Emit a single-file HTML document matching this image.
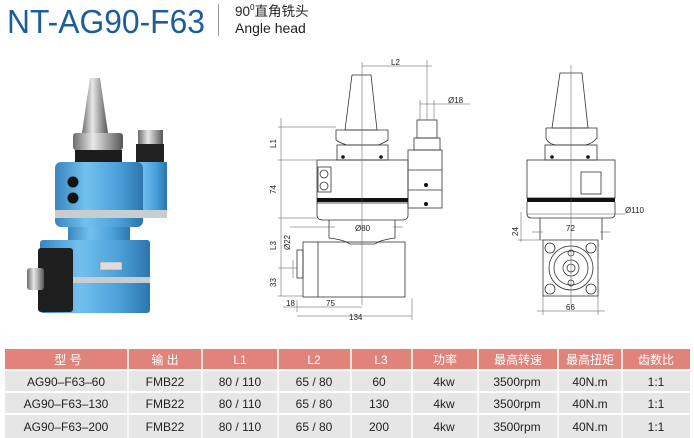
<!DOCTYPE html>
<html><head><meta charset="utf-8"><style>
html,body{margin:0;padding:0;background:#fff;width:694px;height:438px;overflow:hidden}
svg{display:block}
text{font-family:"Liberation Sans","Noto Sans CJK SC",sans-serif}
</style></head><body>
<svg width="694" height="438" viewBox="0 0 694 438" xmlns="http://www.w3.org/2000/svg">
<defs>
<linearGradient id="blue" x1="0" x2="1"><stop offset="0" stop-color="#3a86c0"/><stop offset="0.35" stop-color="#72c0ee"/><stop offset="0.7" stop-color="#4ea3dc"/><stop offset="1" stop-color="#2d75ad"/></linearGradient>
<linearGradient id="silver" x1="0" x2="1"><stop offset="0" stop-color="#6c6c6c"/><stop offset="0.4" stop-color="#e8e8e8"/><stop offset="0.7" stop-color="#a0a0a0"/><stop offset="1" stop-color="#555"/></linearGradient>
</defs>
<text x="7" y="33" font-size="33" fill="#1e5d9c" textLength="198" lengthAdjust="spacingAndGlyphs">NT-AG90-F63</text>
<line x1="218.5" y1="4" x2="218.5" y2="36" stroke="#999" stroke-width="1"/>
<text x="235" y="16" font-size="13.5" fill="#222">90<tspan font-size="8" dy="-6">0</tspan><tspan dy="6">直角铣头</tspan></text>
<text x="235" y="33" font-size="14" fill="#222">Angle head</text>

<polygon points="90,78 100,78 108,133 82,133" fill="url(#silver)"/>
<rect x="73" y="133" width="50" height="17" rx="3" fill="url(#silver)"/>
<rect x="75" y="150" width="47" height="15" fill="#1c1c1c"/>
<rect x="138" y="130" width="25" height="14" fill="url(#silver)"/>
<rect x="136" y="144" width="28" height="19" fill="#222"/>
<rect x="127" y="162" width="40" height="48" fill="url(#blue)"/>
<rect x="55" y="162" width="88" height="65" rx="6" fill="url(#blue)"/>
<rect x="55" y="210" width="112" height="8" fill="#c8cdd2"/>
<circle cx="73" cy="182" r="5.5" fill="#111"/><circle cx="73" cy="198" r="5.5" fill="#111"/>
<rect x="68" y="227" width="62" height="16" fill="url(#blue)"/>
<rect x="40" y="240" width="110" height="73" rx="3" fill="url(#blue)"/>
<rect x="38" y="248" width="35" height="64" rx="3" fill="#1e1e1e"/>
<rect x="73" y="277" width="77" height="6" fill="#c8cdd2"/>
<rect x="100" y="262" width="22" height="8" fill="#ddd" stroke="#888" stroke-width="0.5"/>
<rect x="27" y="268" width="17" height="22" rx="3" fill="url(#silver)"/>

<g fill="none" stroke="#333" stroke-width="0.8">
<polygon points="352,75 371,75 377,130 345,130"/>
<path d="M336,130 H388 V140 Q384,143 378,145 H347 Q340,143 336,140 Z"/>
<rect x="337" y="145" width="51" height="15"/>
<rect x="317" y="160" width="91" height="43"/>
<rect x="318" y="167" width="13" height="25"/>
<circle cx="324" cy="174" r="4"/><circle cx="324" cy="186" r="4"/>
<path d="M317,203 V215 Q317,220 323,220 H402 Q408,220 408,215 V203"/>
<path d="M329,220 V238 Q345,240 350,244 H375 Q380,240 395,238 V220"/>
<rect x="303" y="242" width="102" height="55"/>
<line x1="318" y1="242" x2="318" y2="297"/>
<rect x="297" y="250" width="6" height="28"/>
<rect x="417" y="120" width="20" height="18"/>
<rect x="414" y="138" width="26" height="12"/>
<rect x="408" y="150" width="34" height="58"/>
<line x1="408" y1="170" x2="442" y2="170"/><line x1="408" y1="190" x2="442" y2="190"/>
</g>
<rect x="317" y="198" width="91" height="4" fill="#111"/>
<circle cx="343" cy="157" r="1.8" fill="#111"/><circle cx="381" cy="157" r="1.8" fill="#111"/>
<circle cx="426" cy="185" r="2" fill="#111"/><circle cx="426" cy="204" r="2" fill="#111"/>
<g stroke="#555" stroke-width="0.5" fill="none">
<line x1="362" y1="62" x2="362" y2="305"/>
<line x1="362" y1="66" x2="432" y2="66"/><line x1="427" y1="60" x2="427" y2="120"/>
<line x1="420" y1="104" x2="470" y2="104"/><line x1="420" y1="100" x2="420" y2="120"/><line x1="434" y1="100" x2="434" y2="120"/>
<line x1="281" y1="118" x2="281" y2="296"/>
<line x1="278" y1="127" x2="336" y2="127"/><line x1="278" y1="160" x2="317" y2="160"/><line x1="278" y1="218" x2="317" y2="218"/>
<line x1="278" y1="268" x2="297" y2="268"/><line x1="278" y1="296" x2="303" y2="296"/>
<line x1="290" y1="227" x2="335" y2="227"/><line x1="393" y1="227" x2="403" y2="227"/>
<line x1="293" y1="260" x2="293" y2="278"/>
<line x1="283" y1="307" x2="362" y2="307"/><line x1="297" y1="300" x2="297" y2="312"/>
<line x1="297" y1="316" x2="412" y2="316"/><line x1="412" y1="298" x2="412" y2="320"/>
</g>
<g font-size="8" fill="#222">
<text x="391" y="65">L2</text><text x="448" y="103">Ø18</text>
<text x="276" y="148" transform="rotate(-90 276 148)">L1</text>
<text x="276" y="194" transform="rotate(-90 276 194)">74</text>
<text x="276" y="250" transform="rotate(-90 276 250)">L3</text>
<text x="290" y="250" transform="rotate(-90 290 250)">Ø22</text>
<text x="276" y="287" transform="rotate(-90 276 287)">33</text>
<text x="355" y="231">Ø80</text>
<text x="286" y="306">18</text><text x="326" y="306">75</text><text x="349" y="320">134</text>
</g>

<g fill="none" stroke="#333" stroke-width="0.8">
<polygon points="560,73 582,73 588,128 552,128"/>
<path d="M546,128 H597 V138 Q592,144 585,145 H556 Q548,144 546,138 Z"/>
<rect x="545" y="145" width="52" height="15"/>
<rect x="527" y="160" width="88" height="38"/>
<rect x="581" y="172" width="20" height="22"/>
<path d="M527,202 V214 Q527,218 532,218 H610 Q615,218 615,214 V202"/>
<path d="M540,218 V240 M602,218 V240"/>
<rect x="543" y="240" width="55" height="56"/>
<circle cx="571" cy="268" r="22"/><circle cx="571" cy="268" r="17"/><circle cx="571" cy="268" r="8"/><circle cx="571" cy="268" r="4"/>
<circle cx="550" cy="248" r="5"/><circle cx="591" cy="248" r="5"/><circle cx="550" cy="289" r="5"/><circle cx="591" cy="289" r="5"/>
<circle cx="571" cy="253" r="3"/><circle cx="571" cy="283" r="3"/>
</g>
<rect x="527" y="198" width="88" height="4" fill="#111"/>
<circle cx="552" cy="157" r="1.8" fill="#111"/><circle cx="588" cy="157" r="1.8" fill="#111"/>
<g stroke="#555" stroke-width="0.5" fill="none">
<line x1="571" y1="65" x2="571" y2="305"/>
<line x1="527" y1="214" x2="615" y2="214"/><line x1="615" y1="214" x2="625" y2="214"/>
<line x1="532" y1="232" x2="543" y2="232"/><line x1="600" y1="232" x2="610" y2="232"/>
<line x1="521" y1="212" x2="521" y2="242"/><line x1="518" y1="240" x2="543" y2="240"/>
<line x1="543" y1="296" x2="543" y2="315"/><line x1="598" y1="296" x2="598" y2="315"/>
<line x1="537" y1="311" x2="605" y2="311"/>
</g>
<g font-size="8" fill="#222">
<text x="625" y="213">Ø110</text><text x="566" y="231">72</text>
<text x="518" y="236" transform="rotate(-90 518 236)">24</text><text x="566" y="310">66</text>
</g>

<rect x="5" y="349" width="685" height="20" fill="#e0837b"/>
<rect x="5" y="371" width="685" height="20" fill="#e6e6e6"/>
<rect x="5" y="393" width="685" height="20" fill="#e6e6e6"/>
<rect x="5" y="415" width="685" height="23" fill="#e6e6e6"/>
<g stroke="#fff" stroke-width="1.5">
<line x1="128" y1="349" x2="128" y2="438"/><line x1="202" y1="349" x2="202" y2="438"/><line x1="278" y1="349" x2="278" y2="438"/>
<line x1="351" y1="349" x2="351" y2="438"/><line x1="412" y1="349" x2="412" y2="438"/><line x1="478" y1="349" x2="478" y2="438"/>
<line x1="558" y1="349" x2="558" y2="438"/><line x1="622" y1="349" x2="622" y2="438"/>
</g>
<g font-size="12" fill="#fff" text-anchor="middle">
<text x="68" y="364">型 号</text><text x="165" y="364">输 出</text><text x="240" y="364">L1</text><text x="314" y="364">L2</text>
<text x="381" y="364">L3</text><text x="445" y="364">功率</text><text x="518" y="364">最高转速</text><text x="590" y="364">最高扭矩</text><text x="656" y="364">齿数比</text>
</g>
<g font-size="12" fill="#222" text-anchor="middle">
<text x="66" y="386">AG90–F63–60</text><text x="165" y="386">FMB22</text><text x="240" y="386">80 / 110</text><text x="314" y="386">65 / 80</text><text x="379" y="386">60</text><text x="444" y="386">4kw</text><text x="517" y="386">3500rpm</text><text x="590" y="386">40N.m</text><text x="656" y="386">1:1</text>
<text x="66" y="408">AG90–F63–130</text><text x="165" y="408">FMB22</text><text x="240" y="408">80 / 110</text><text x="314" y="408">65 / 80</text><text x="379" y="408">130</text><text x="444" y="408">4kw</text><text x="517" y="408">3500rpm</text><text x="590" y="408">40N.m</text><text x="656" y="408">1:1</text>
<text x="66" y="431">AG90–F63–200</text><text x="165" y="431">FMB22</text><text x="240" y="431">80 / 110</text><text x="314" y="431">65 / 80</text><text x="379" y="431">200</text><text x="444" y="431">4kw</text><text x="517" y="431">3500rpm</text><text x="590" y="431">40N.m</text><text x="656" y="431">1:1</text>
</g>
</svg>
</body></html>
